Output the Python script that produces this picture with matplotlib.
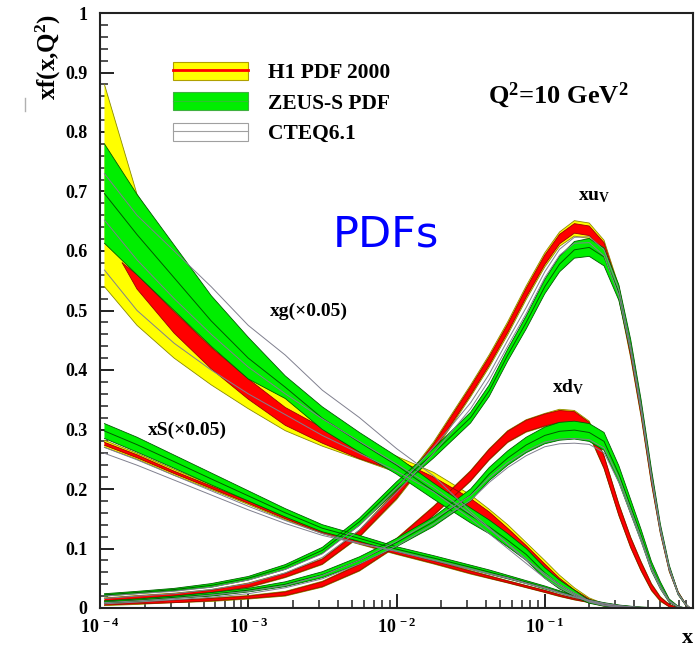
import numpy as np
import matplotlib
matplotlib.use('Agg')
import matplotlib.pyplot as plt
from matplotlib.patches import Patch
from matplotlib.lines import Line2D
from matplotlib.legend_handler import HandlerTuple
from matplotlib.ticker import MultipleLocator, FuncFormatter, LogLocator, NullFormatter

plt.rcParams['font.family'] = 'Liberation Serif'
plt.rcParams['font.weight'] = 'bold'
plt.rcParams['mathtext.fontset'] = 'custom'
plt.rcParams['mathtext.rm'] = 'Liberation Serif:bold'
plt.rcParams['mathtext.bf'] = 'Liberation Serif:bold'
plt.rcParams['mathtext.it'] = 'Liberation Serif:bold'
plt.rcParams['mathtext.default'] = 'rm'

# log10(x) sampling of the curves
logx = np.array([-3.97, -3.75, -3.5, -3.25, -3.0, -2.75, -2.5, -2.25, -2.0, -1.75,
                 -1.5, -1.375, -1.25, -1.125, -1.0, -0.9, -0.8, -0.7, -0.6, -0.5,
                 -0.42, -0.35, -0.28, -0.22, -0.16, -0.1, -0.05, -0.02])
# the H1 experimental gluon band starts a little later
logx_g_exp = np.concatenate([[-3.85], logx[1:]])

# ---- gluon (x0.05)
g_h1_tot_hi = [0.88, 0.695, 0.60, 0.52, 0.44, 0.36, 0.315, 0.28, 0.255, 0.228,
               0.19, 0.166, 0.14, 0.11, 0.08, 0.055, 0.034, 0.017, 0.007, 0.002,
               0.0007, 0, 0, 0, 0, 0, 0, 0]
g_h1_tot_lo = [0.54, 0.475, 0.42, 0.375, 0.335, 0.298, 0.272, 0.25, 0.228, 0.195,
               0.158, 0.135, 0.11, 0.083, 0.055, 0.036, 0.021, 0.009, 0.003, 0.001,
               0, 0, 0, 0, 0, 0, 0, 0]
g_h1_cen = [0.58, 0.548, 0.48, 0.42, 0.368, 0.322, 0.29, 0.262, 0.24, 0.21,
            0.174, 0.152, 0.125, 0.097, 0.067, 0.045, 0.027, 0.013, 0.005, 0.0015,
            0.0005, 0, 0, 0, 0, 0, 0, 0]
g_h1_exp = [0, 0.012, 0.018, 0.018, 0.017, 0.015, 0.013, 0.011, 0.01, 0.01,
            0.01, 0.0095, 0.009, 0.008, 0.007, 0.005, 0.0035, 0.002, 0.001, 0.0005,
            0, 0, 0, 0, 0, 0, 0, 0]
g_zeus_hi = [0.78, 0.695, 0.61, 0.525, 0.455, 0.39, 0.338, 0.295, 0.255, 0.21,
             0.168, 0.148, 0.125, 0.1, 0.068, 0.047, 0.03, 0.013, 0.005, 0.0015,
             0.0005, 0, 0, 0, 0, 0, 0, 0]
g_zeus_lo = [0.613, 0.56, 0.50, 0.44, 0.385, 0.352, 0.30, 0.262, 0.225, 0.183,
             0.143, 0.125, 0.103, 0.08, 0.05, 0.032, 0.019, 0.008, 0.003, 0.001,
             0, 0, 0, 0, 0, 0, 0, 0]
g_cteq_hi = [0.73, 0.66, 0.60, 0.54, 0.475, 0.425, 0.366, 0.32, 0.268, 0.222,
             0.162, 0.135, 0.107, 0.08, 0.058, 0.04, 0.025, 0.012, 0.005, 0.002,
             0.001, 0, 0, 0, 0, 0, 0, 0]
g_cteq_cen = [0.652, 0.585, 0.52, 0.46, 0.405, 0.36, 0.318, 0.28, 0.242, 0.203,
              0.158, 0.133, 0.108, 0.082, 0.055, 0.038, 0.023, 0.011, 0.005, 0.0015,
              0, 0, 0, 0, 0, 0, 0, 0]
g_cteq_lo = [0.568, 0.50, 0.445, 0.40, 0.36, 0.325, 0.29, 0.26, 0.23, 0.195,
             0.15, 0.125, 0.10, 0.075, 0.05, 0.034, 0.021, 0.01, 0.004, 0.0015,
             0, 0, 0, 0, 0, 0, 0, 0]

# ---- sea (x0.05)
s_h1_cen = [0.276, 0.255, 0.228, 0.203, 0.178, 0.152, 0.128, 0.11, 0.093, 0.077,
            0.06, 0.052, 0.044, 0.036, 0.028, 0.021, 0.015, 0.01, 0.006, 0.003,
            0.0015, 0.0008, 0.0003, 0, 0, 0, 0, 0]
s_h1_tot = [0.006, 0.005, 0.005, 0.004, 0.004, 0.004, 0.003, 0.003, 0.003, 0.003,
            0.003, 0.0025, 0.002, 0.002, 0.002, 0.0018, 0.0015, 0.001, 0.0008, 0.0005,
            0.0003, 0.0002, 0, 0, 0, 0, 0, 0]
s_h1_exp = [0.0025, 0.0025, 0.002, 0.002, 0.002, 0.002, 0.002, 0.002, 0.002, 0.002,
            0.002, 0.0018, 0.0015, 0.0015, 0.0015, 0.0012, 0.001, 0.0007, 0.0005, 0.0003,
            0.0002, 0.0001, 0, 0, 0, 0, 0, 0]
s_zeus_hi = [0.31, 0.287, 0.257, 0.227, 0.197, 0.167, 0.14, 0.122, 0.103, 0.088,
             0.072, 0.064, 0.055, 0.046, 0.037, 0.029, 0.021, 0.014, 0.009, 0.005,
             0.003, 0.0015, 0.0008, 0.0003, 0, 0, 0, 0]
s_zeus_lo = [0.285, 0.262, 0.235, 0.207, 0.18, 0.153, 0.128, 0.112, 0.095, 0.08,
             0.065, 0.057, 0.049, 0.041, 0.032, 0.025, 0.018, 0.012, 0.007, 0.004,
             0.002, 0.001, 0.0005, 0, 0, 0, 0, 0]
s_cteq_hi = [0.27, 0.249, 0.223, 0.197, 0.171, 0.147, 0.125, 0.109, 0.096, 0.081,
             0.066, 0.058, 0.051, 0.042, 0.034, 0.026, 0.019, 0.013, 0.008, 0.004,
             0.002, 0.001, 0, 0, 0, 0, 0, 0]
s_cteq_lo = [0.26, 0.24, 0.215, 0.19, 0.165, 0.142, 0.122, 0.108, 0.095, 0.08,
             0.065, 0.057, 0.05, 0.041, 0.033, 0.025, 0.018, 0.012, 0.007, 0.0035,
             0.002, 0.001, 0, 0, 0, 0, 0, 0]

# ---- u valence
u_h1_cen = [0.014, 0.018, 0.022, 0.028, 0.038, 0.055, 0.078, 0.125, 0.19, 0.27,
            0.365, 0.415, 0.47, 0.53, 0.585, 0.62, 0.638, 0.634, 0.606, 0.53,
            0.43, 0.33, 0.215, 0.13, 0.065, 0.025, 0.006, 0.0]
u_h1_exp = [0.002, 0.002, 0.002, 0.002, 0.003, 0.003, 0.004, 0.005, 0.006, 0.006,
            0.007, 0.007, 0.007, 0.0075, 0.008, 0.008, 0.008, 0.008, 0.008, 0.007,
            0.007, 0.006, 0.005, 0.004, 0.003, 0.002, 0.001, 0]
u_h1_tot = [0.003, 0.003, 0.003, 0.003, 0.004, 0.004, 0.005, 0.006, 0.008, 0.009,
            0.01, 0.0105, 0.011, 0.0115, 0.012, 0.012, 0.013, 0.013, 0.012, 0.011,
            0.01, 0.009, 0.007, 0.005, 0.004, 0.002, 0.001, 0]
u_zeus_cen = [0.022, 0.026, 0.031, 0.038, 0.05, 0.069, 0.097, 0.145, 0.205, 0.26,
              0.32, 0.365, 0.425, 0.48, 0.54, 0.578, 0.602, 0.606, 0.59, 0.53,
              0.44, 0.34, 0.225, 0.135, 0.068, 0.024, 0.006, 0.0]
u_zeus_err = [0.002, 0.002, 0.002, 0.003, 0.003, 0.004, 0.005, 0.006, 0.007, 0.008,
              0.009, 0.0095, 0.01, 0.011, 0.012, 0.013, 0.014, 0.015, 0.015, 0.013,
              0.011, 0.01, 0.008, 0.006, 0.004, 0.002, 0.001, 0]
u_cteq_cen = [0.018, 0.022, 0.026, 0.033, 0.044, 0.062, 0.088, 0.135, 0.198, 0.265,
              0.34, 0.388, 0.445, 0.50, 0.56, 0.598, 0.618, 0.619, 0.597, 0.53,
              0.435, 0.335, 0.22, 0.132, 0.066, 0.024, 0.006, 0.0]
u_cteq_err = [0.002, 0.002, 0.002, 0.002, 0.003, 0.003, 0.003, 0.004, 0.004, 0.005,
              0.005, 0.005, 0.005, 0.005, 0.005, 0.005, 0.005, 0.005, 0.005, 0.005,
              0.004, 0.004, 0.003, 0.003, 0.002, 0.001, 0, 0]

# ---- d valence
d_h1_cen = [0.006, 0.008, 0.011, 0.014, 0.018, 0.024, 0.04, 0.068, 0.11, 0.163,
            0.222, 0.258, 0.288, 0.306, 0.316, 0.322, 0.32, 0.302, 0.245, 0.165,
            0.11, 0.07, 0.035, 0.015, 0.004, 0.0, 0, 0]
d_h1_exp = [0.001, 0.001, 0.002, 0.002, 0.002, 0.003, 0.004, 0.005, 0.006, 0.007,
            0.008, 0.0085, 0.009, 0.0095, 0.01, 0.01, 0.01, 0.01, 0.01, 0.009,
            0.008, 0.007, 0.005, 0.003, 0.002, 0, 0, 0]
d_h1_tot = [0.002, 0.002, 0.002, 0.003, 0.003, 0.004, 0.005, 0.006, 0.007, 0.008,
            0.009, 0.0095, 0.01, 0.0105, 0.011, 0.012, 0.012, 0.012, 0.011, 0.01,
            0.009, 0.008, 0.006, 0.004, 0.002, 0, 0, 0]
d_zeus_cen = [0.01, 0.013, 0.018, 0.023, 0.03, 0.04, 0.056, 0.08, 0.11, 0.145,
              0.19, 0.225, 0.252, 0.274, 0.29, 0.297, 0.299, 0.295, 0.28, 0.225,
              0.17, 0.122, 0.07, 0.038, 0.012, 0.002, 0, 0]
d_zeus_err = [0.002, 0.002, 0.002, 0.003, 0.003, 0.004, 0.005, 0.006, 0.007, 0.008,
              0.01, 0.011, 0.012, 0.013, 0.014, 0.015, 0.015, 0.015, 0.015, 0.014,
              0.012, 0.01, 0.008, 0.006, 0.003, 0.001, 0, 0]
d_cteq_cen = [0.008, 0.011, 0.015, 0.02, 0.026, 0.036, 0.052, 0.077, 0.108, 0.145,
              0.185, 0.215, 0.24, 0.26, 0.275, 0.28, 0.281, 0.279, 0.265, 0.215,
              0.162, 0.115, 0.066, 0.035, 0.011, 0.002, 0, 0]
d_cteq_err = [0.001, 0.001, 0.001, 0.002, 0.002, 0.002, 0.003, 0.003, 0.004, 0.004,
              0.004, 0.004, 0.004, 0.004, 0.004, 0.004, 0.004, 0.004, 0.004, 0.004,
              0.003, 0.003, 0.002, 0.002, 0.001, 0, 0, 0]

YEL, YEL_E = '#ffff00', '#8a8a00'
RED, RED_E = '#ff0000', '#990000'
GRN, GRN_E = '#00ee00', '#005a00'
CTEQ = '#80808f'

x = 10.0**logx
xg_exp = 10.0**logx_g_exp


def band(ax, xx, lo, hi, face, edge, z):
    ax.fill_between(xx, lo, hi, facecolor=face, edgecolor='none', zorder=z)
    ax.plot(xx, lo, color=edge, lw=0.6, zorder=z + 0.1)
    ax.plot(xx, hi, color=edge, lw=0.6, zorder=z + 0.1)


fig = plt.figure(figsize=(6.99, 6.48), dpi=100)
ax = fig.add_axes([100/699, 40/648, 593/699, 595/648])

# H1 total (yellow) and experimental (red) bands
for cen, tot in [(s_h1_cen, s_h1_tot), (u_h1_cen, u_h1_tot), (d_h1_cen, d_h1_tot)]:
    cen, tot = np.array(cen), np.array(tot)
    band(ax, x, cen - tot, cen + tot, YEL, YEL_E, 2)
band(ax, x, g_h1_tot_lo, g_h1_tot_hi, YEL, YEL_E, 2)

for xx, cen, ex in [(xg_exp, g_h1_cen, g_h1_exp), (x, s_h1_cen, s_h1_exp),
                    (x, u_h1_cen, u_h1_exp), (x, d_h1_cen, d_h1_exp)]:
    cen, ex = np.array(cen), np.array(ex)
    band(ax, xx, cen - ex, cen + ex, RED, RED_E, 3)

# ZEUS-S (green)
zeus = [(np.array(g_zeus_lo), np.array(g_zeus_hi)),
        (np.array(s_zeus_lo), np.array(s_zeus_hi)),
        (np.array(u_zeus_cen) - u_zeus_err, np.array(u_zeus_cen) + u_zeus_err),
        (np.array(d_zeus_cen) - d_zeus_err, np.array(d_zeus_cen) + d_zeus_err)]
for lo, hi in zeus:
    band(ax, x, lo, hi, GRN, GRN_E, 4)
    ax.plot(x, (lo + hi) / 2, color=GRN_E, lw=0.7, zorder=4.2)

# CTEQ6.1 lines
cteq = [g_cteq_hi, g_cteq_cen, g_cteq_lo, s_cteq_hi, s_cteq_lo,
        np.array(u_cteq_cen) + u_cteq_err, np.array(u_cteq_cen) - u_cteq_err,
        np.array(d_cteq_cen) + d_cteq_err, np.array(d_cteq_cen) - d_cteq_err]
for c in cteq:
    ax.plot(x, c, color=CTEQ, lw=0.7, zorder=5)

ax.set_xscale('log')
ax.set_xlim(1e-4, 1)
ax.set_ylim(0, 1)
ax.set_xticks([1e-4, 1e-3, 1e-2, 1e-1])
ax.set_xticklabels([r'$10^{\,-4}$', r'$10^{\,-3}$', r'$10^{\,-2}$', r'$10^{\,-1}$'])
ax.xaxis.set_minor_locator(LogLocator(base=10, subs=np.arange(2, 10)))
ax.xaxis.set_minor_formatter(NullFormatter())
ax.set_yticks(np.arange(0, 1.01, 0.1))
ax.yaxis.set_major_formatter(FuncFormatter(lambda v, p: '%g' % round(v, 2)))
ax.yaxis.set_minor_locator(MultipleLocator(0.02))
ax.tick_params(which='major', direction='in', length=10, width=1.4, labelsize=13,
               top=False, right=False, color='#222222')
ax.tick_params(which='minor', direction='in', length=6, width=1.1,
               top=False, right=False, color='#222222')
ax.tick_params(axis='y', pad=9)
ax.tick_params(axis='x', pad=7)
for sp in ax.spines.values():
    sp.set_linewidth(1.5)
    sp.set_color('#222222')
    sp.set_zorder(10)

# legend
handles = [(Patch(facecolor=YEL, edgecolor='#b0a000', lw=0.8), Line2D([], [], color=RED, lw=2)),
           (Patch(facecolor=GRN, edgecolor='#40b040', lw=0.8), Line2D([], [], color='#30c030', lw=0.8)),
           (Patch(facecolor='white', edgecolor='#a0a0a0', lw=0.8), Line2D([], [], color='#a0a0a0', lw=0.8))]
labels = ['H1 PDF 2000', 'ZEUS-S PDF', 'CTEQ6.1']
ax.legend(handles, labels, handler_map={tuple: HandlerTuple(ndivide=1)},
          loc='upper left', bbox_to_anchor=(173/699, 1 - 62/648), bbox_transform=fig.transFigure,
          frameon=False, borderpad=0, borderaxespad=0, handlelength=3.5, handleheight=0.9,
          handletextpad=0.92, labelspacing=0.42,
          prop={'family': 'Liberation Serif', 'weight': 'bold', 'size': 15.5})

ax.text(0.0414, 0.849, r'Q$^{2}$=10 GeV$^{2}$', fontsize=19, ha='left', va='baseline', zorder=11)
ax.text(3.73e-3, 0.627, 'PDFs', fontsize=31, color='#0000ff', family='DejaVu Sans',
        fontweight='normal', ha='left', va='center', zorder=11)
ax.text(0.1675, 0.692, r'xu$_{\rm V}$', fontsize=14, ha='left', va='center', zorder=11)
ax.text(0.112, 0.371, r'xd$_{\rm V}$', fontsize=14, ha='left', va='center', zorder=11)
ax.text(1.40e-3, 0.499, 'xg(\u00d70.05)', fontsize=14, ha='left', va='center', zorder=11)
ax.text(2.11e-4, 0.299, 'xS(\u00d70.05)', fontsize=14, ha='left', va='center', zorder=11)

fig.text(48/699, 1 - 57/648, r'xf(x,Q$^{2}$)', fontsize=18, rotation=90, ha='center', va='center')
fig.text(687/699, 1 - 643/648, 'x', fontsize=16, ha='center', va='baseline')
fig.add_artist(Line2D([25/699, 25/699], [1 - 98/648, 1 - 111/648], transform=fig.transFigure,
                      color='#b0b0b0', lw=1))

fig.savefig('out.png', dpi=100)
